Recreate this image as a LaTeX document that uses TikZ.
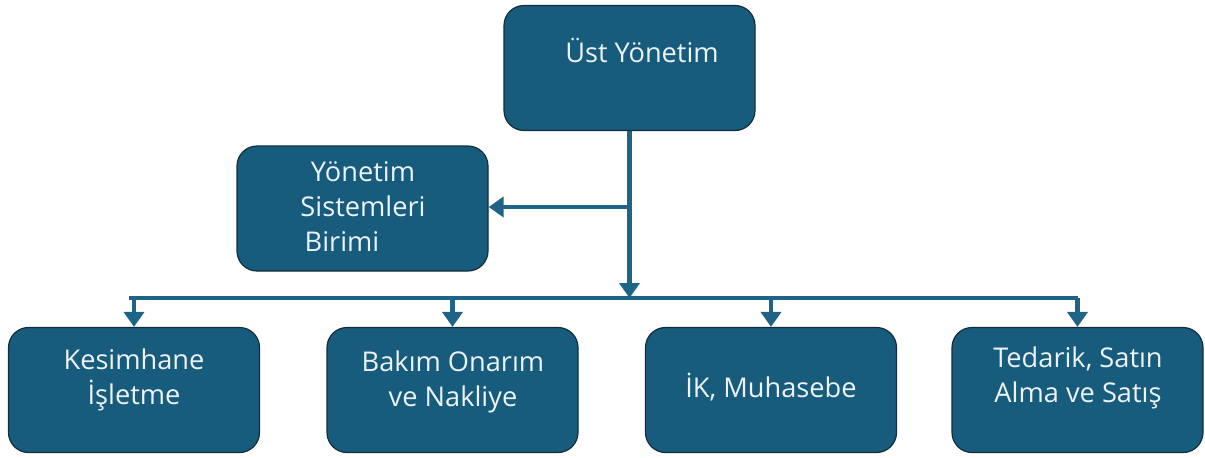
\documentclass[tikz,border=0pt]{standalone}
\usepackage{fontspec}
\setmainfont{Open Sans}
\usetikzlibrary{arrows.meta}
\definecolor{kutu}{RGB}{23,92,125}
\definecolor{cizgi}{RGB}{30,100,135}
\definecolor{kenar}{RGB}{20,45,60}
\tikzset{
  birim/.style={draw=kenar, line width=0.6pt, fill=kutu, rounded corners=10pt,
    minimum width=125.5pt, minimum height=62.5pt},
  yazi/.style={text=white!92!kutu, font=\fontsize{13.6}{17.5}\selectfont, align=center},
  hat/.style={draw=cizgi, line width=2.2pt},
  ok/.style={hat, -{Triangle[width=10pt,length=7.5pt]}},
}

\begin{document}
\begin{tikzpicture}[x=0.5pt,y=-0.5pt]
\useasboundingbox (0,0) rectangle (1205,457);

% kutular
\node[birim] (ust) at (629.5,68) {};
\node[birim] (yon) at (362.5,208.5) {};
\node[birim] (kes) at (134,390) {};
\node[birim] (bak) at (452.5,390) {};
\node[birim] (ik) at (771,390) {};
\node[birim] (ted) at (1077.5,390) {};

% yazilar
\node[yazi] (ust-y) at (642,50) {Üst Yönetim};
\node[yazi] (yon-y) at (363,207) {Yönetim\\Sistemleri\\Birimi\hspace*{21pt}};
\node[yazi] (kes-y) at (134,380) {Kesimhane\\İşletme};
\node[yazi] (bak-y) at (453,382) {Bakım Onarım\\ve Nakliye};
\node[yazi] (ik-y) at (771,387) {İK, Muhasebe};
\node[yazi] (ted-y) at (1078,378) {Tedarik, Satın\\Alma ve Satış};

% baglantilar
\coordinate (dal) at (629,207);
\coordinate (bus) at (629,298);
\coordinate (bus-sol) at (129,298);
\coordinate (bus-sag) at (1078,298);

\draw[ok] (ust.south) -- (ust.south |- bus);
\draw[ok] (dal) -- (dal -| yon.east);
\draw[hat] (bus-sol) -- (bus-sag);
\foreach \n in {kes,bak,ik,ted}
  \draw[ok] (bus -| \n.north) -- (\n.north);

\end{tikzpicture}
\end{document}
